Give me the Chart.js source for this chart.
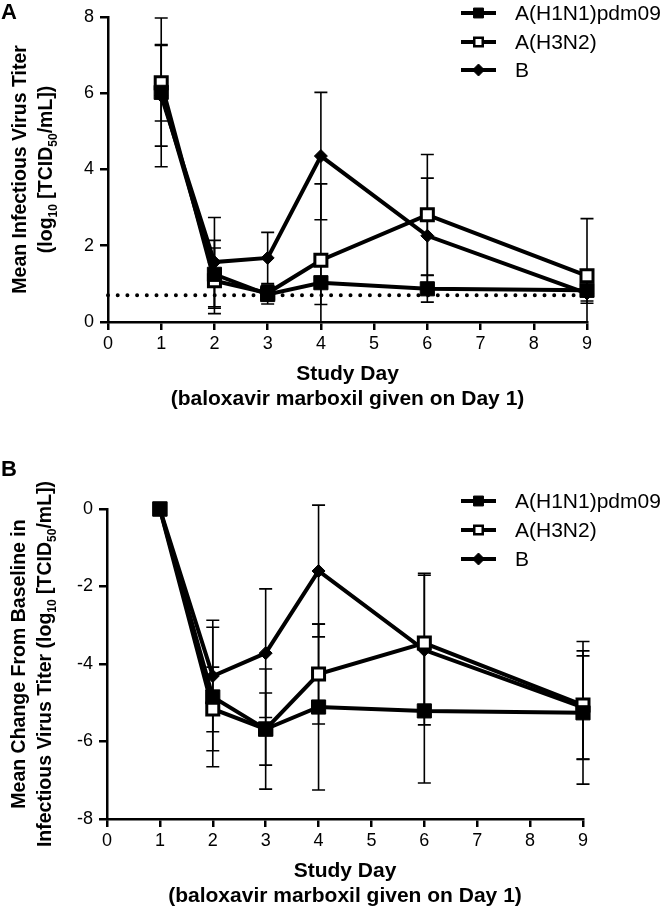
<!DOCTYPE html>
<html lang="en">
<head>
<meta charset="UTF-8">
<title>Infectious virus titer by study day</title>
<script src="https://cdn.jsdelivr.net/npm/chart.js"></script>
<style>
  body { margin: 0; background: #fff; }
  canvas { display: block; }
</style>
</head>
<body>
<canvas id="panelA" width="666" height="440"></canvas>
<canvas id="panelB" width="666" height="467"></canvas>
<script>
const days = [1, 2, 3, 4, 6, 9];
const seriesNames = ['A(H1N1)pdm09', 'A(H3N2)', 'B'];
const xTicks = [0, 1, 2, 3, 4, 5, 6, 7, 8, 9];
const yTicksA = [0, 2, 4, 6, 8];
const yTicksB = [-8, -6, -4, -2, 0];

// panel A - mean infectious virus titer and SD
const titerH1N1 = [6.02, 1.25, 0.72, 1.03, 0.87, 0.83];
const titerH3N2 = [6.27, 1.08, 0.76, 1.62, 2.81, 1.21];
const titerB    = [5.93, 1.57, 1.68, 4.35, 2.26, 0.75];
const titerSdH1N1 = [1.95, 0.89, 0.25, 0.57, 0.35, 0.34];
const titerSdH3N2 = [1.00, 0.86, 0.20, 2.00, 1.58, 1.50];
const titerSdB    = [1.32, 1.17, 0.67, 1.67, 1.51, 0.20];
const lloq = 0.7;

// panel B - mean change from baseline and SD
const changeH1N1 = [0, -4.85, -5.68, -5.11, -5.21, -5.26];
const changeH3N2 = [0, -5.16, -5.68, -4.26, -3.46, -5.06];
const changeB    = [0, -4.31, -3.72, -1.60, -3.64, -5.12];
const changeSdH1N1 = [0, 1.80, 0.93, 2.14, 1.86, 1.84];
const changeSdH3N2 = [0, 1.08, 1.55, 1.29, 1.80, 1.40];
const changeSdB    = [0, 1.44, 1.66, 1.70, 1.93, 1.33];

const FONT = "'Liberation Sans', Arial, Helvetica, sans-serif";

// marker look per series (H1N1 filled square, H3N2 open square, B diamond)
const looks = [
  { pointStyle: 'rect', pointRadius: 10, pointBackgroundColor: '#000', pointBorderWidth: 1, lr: 7, lbw: 1, lfill: '#000' },
  { pointStyle: 'rect', pointRadius: 8.5, pointBackgroundColor: '#fff', pointBorderWidth: 3, lr: 6, lbw: 2.5, lfill: '#fff' },
  { pointStyle: 'rectRot', pointRadius: 6.5, pointBackgroundColor: '#000', pointBorderWidth: 1, lr: 6, lbw: 1, lfill: '#000' }
];

function series(means, sds) {
  return means.map((m, k) => {
    const lk = looks[k];
    return {
      label: seriesNames[k],
      data: days.map((d, i) => ({ x: d, y: m[i] })),
      errors: sds[k],
      borderColor: '#000',
      borderWidth: 4,
      pointStyle: lk.pointStyle,
      pointRadius: lk.pointRadius,
      pointHoverRadius: lk.pointRadius,
      pointBackgroundColor: lk.pointBackgroundColor,
      pointBorderColor: '#000',
      pointBorderWidth: lk.pointBorderWidth,
      tension: 0,
      clip: false,
      order: k
    };
  });
}

const errorBars = {
  id: 'errorBars',
  beforeDatasetsDraw(chart) {
    const { ctx, scales: { x, y } } = chart;
    ctx.save();
    ctx.strokeStyle = '#000';
    ctx.lineWidth = 1.6;
    chart.data.datasets.forEach(ds => {
      if (!ds.errors) return;
      ds.data.forEach((p, i) => {
        const e = ds.errors[i];
        if (!e) return;
        const px = x.getPixelForValue(p.x);
        const lowVal = Math.max(p.y - e, y.min);
        const yHi = y.getPixelForValue(p.y + e);
        const yLo = y.getPixelForValue(lowVal);
        ctx.beginPath();
        ctx.moveTo(px, yHi); ctx.lineTo(px, yLo);
        ctx.moveTo(px - 6.5, yHi); ctx.lineTo(px + 6.5, yHi);
        if (p.y - e >= y.min) { ctx.moveTo(px - 6.5, yLo); ctx.lineTo(px + 6.5, yLo); }
        ctx.stroke();
      });
    });
    ctx.restore();
  }
};

const seriesLegend = {
  id: 'seriesLegend',
  afterDraw(chart, args, opts) {
    const ctx = chart.ctx;
    const items = chart.data.datasets.filter(ds => ds.errors);
    ctx.save();
    items.forEach((ds, k) => {
      const y = opts.rows[k];
      ctx.strokeStyle = '#000';
      ctx.lineWidth = 4;
      ctx.beginPath();
      ctx.moveTo(opts.x0, y); ctx.lineTo(opts.x1, y);
      ctx.stroke();
      const lk = looks[k];
      ctx.fillStyle = lk.lfill;
      ctx.lineWidth = lk.lbw;
      Chart.helpers.drawPoint(ctx, { pointStyle: lk.pointStyle, radius: lk.lr, rotation: 0, borderWidth: lk.lbw },
        (opts.x0 + opts.x1) / 2, y);
      ctx.fillStyle = '#000';
      ctx.font = '21px ' + FONT;
      ctx.textAlign = 'left';
      ctx.textBaseline = 'middle';
      ctx.fillText(ds.label, opts.textX, y + 1);
    });
    ctx.restore();
  }
};

function drawRich(ctx, segs, cx, cy, size, rotate) {
  ctx.save();
  ctx.translate(cx, cy);
  if (rotate) ctx.rotate(-Math.PI / 2);
  const big = 'bold ' + size + 'px ' + FONT;
  const small = 'bold ' + Math.round(size * 0.6) + 'px ' + FONT;
  let total = 0;
  segs.forEach(([t, sub]) => { ctx.font = sub ? small : big; total += ctx.measureText(t).width; });
  let x = -total / 2;
  ctx.fillStyle = '#000';
  ctx.textAlign = 'left';
  ctx.textBaseline = 'alphabetic';
  segs.forEach(([t, sub]) => {
    ctx.font = sub ? small : big;
    ctx.fillText(t, x, size * 0.36 + (sub ? size * 0.27 : 0));
    x += ctx.measureText(t).width;
  });
  ctx.restore();
}

const panelText = {
  id: 'panelText',
  afterDraw(chart, args, opts) {
    const { ctx, chartArea: a } = chart;
    ctx.save();
    ctx.fillStyle = '#000';
    ctx.font = 'bold 22px ' + FONT;
    ctx.textAlign = 'left';
    ctx.textBaseline = 'middle';
    ctx.fillText(opts.letter, 1, opts.letterY);
    const cy = (a.top + a.bottom) / 2;
    drawRich(ctx, opts.yTitle[0], a.left - 89, cy, 19.5, true);
    drawRich(ctx, opts.yTitle[1], a.left - 63, cy, 19.5, true);
    const cx = (a.left + a.right) / 2;
    drawRich(ctx, [['Study Day', 0]], cx, a.bottom + 50, 21, false);
    drawRich(ctx, [['(baloxavir marboxil given on Day 1)', 0]], cx, a.bottom + 75, 21, false);
    ctx.restore();
  }
};

function axisOpts(ticks, fitKey, fitSize) {
  return {
    type: 'linear',
    min: ticks[0],
    max: ticks[ticks.length - 1],
    afterBuildTicks: s => { s.ticks = ticks.map(v => ({ value: v })); },
    afterFit: s => { s[fitKey] = fitSize; },
    border: { display: true, color: '#000', width: 2.5 },
    grid: { drawOnChartArea: false, drawTicks: true, tickLength: 8, color: '#000', lineWidth: 2.5 },
    ticks: { color: '#000', font: { family: FONT, size: 18 }, padding: fitKey === 'width' ? 6 : 3 }
  };
}

function makeChart(id, datasets, yTicks, yWidth, padding, legendRows, text) {
  return new Chart(document.getElementById(id), {
    type: 'line',
    data: { datasets },
    options: {
      responsive: false,
      animation: false,
      events: [],
      layout: { padding },
      scales: {
        x: axisOpts(xTicks, 'height', 40),
        y: axisOpts(yTicks, 'width', yWidth)
      },
      plugins: {
        legend: { display: false },
        tooltip: { enabled: false },
        seriesLegend: { x0: 461, x1: 496, textX: 515, rows: legendRows },
        panelText: text
      }
    },
    plugins: [errorBars, seriesLegend, panelText]
  });
}

const dsA = series([titerH1N1, titerH3N2, titerB], [titerSdH1N1, titerSdH3N2, titerSdB]);
dsA.push({
  label: 'LLOQ',
  data: [{ x: xTicks[0], y: lloq }, { x: xTicks[xTicks.length - 1], y: lloq }],
  borderColor: '#000',
  borderWidth: 4,
  borderDash: [0, 9.7],
  borderCapStyle: 'round',
  pointRadius: 0,
  clip: false,
  order: 10
});

const dsB = series([changeH1N1, changeH3N2, changeB], [changeSdH1N1, changeSdH3N2, changeSdB]);

makeChart('panelA', dsA, yTicksA, 108, { left: 0, top: 12, right: 79, bottom: 78 }, [13, 42, 70], {
  letter: 'A', letterY: 13,
  yTitle: [
    [['Mean Infectious Virus Titer', 0]],
    [['(log', 0], ['10', 1], [' [TCID', 0], ['50', 1], ['/mL])', 0]]
  ]
});

makeChart('panelB', dsB, yTicksB, 107, { left: 0, top: 69, right: 83, bottom: 48 }, [61, 90, 119], {
  letter: 'B', letterY: 30,
  yTitle: [
    [['Mean Change From Baseline in', 0]],
    [['Infectious Virus Titer (log', 0], ['10', 1], [' [TCID', 0], ['50', 1], ['/mL])', 0]]
  ]
});
</script>
</body>
</html>
